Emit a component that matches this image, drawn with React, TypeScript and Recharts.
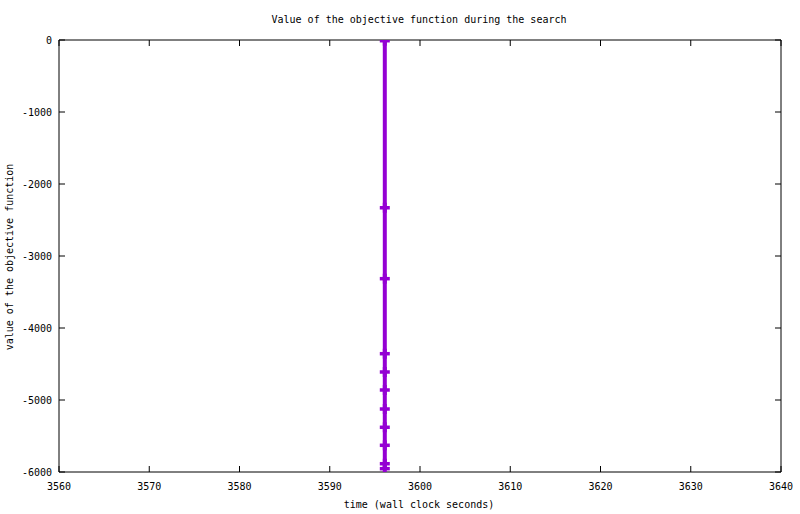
import React from 'react';
import { LineChart, Line, XAxis, YAxis } from 'recharts';

const times = [3596.1, 3596.1, 3596.1, 3596.1, 3596.1, 3596.1, 3596.1, 3596.1, 3596.1, 3596.1, 3596.1];
const values = [-10, -2330, -3315, -4357, -4611, -4861, -5125, -5379, -5629, -5885, -5954];
const xTicks = [3560, 3570, 3580, 3590, 3600, 3610, 3620, 3630, 3640];
const yTicks = [-6000, -5000, -4000, -3000, -2000, -1000, 0];

const data = times.map((t, i) => ({ t, v: values[i] }));

const FONT = '"DejaVu Sans Mono", "Liberation Mono", monospace';
const COLOR = '#9400d3';
const TL = 6;

const BottomTick = (p: any) => (
  <g>
    <line x1={p.x} x2={p.x} y1={p.y} y2={p.y - TL} stroke="#000" strokeWidth={1} />
    <text x={p.x} y={p.y + 14} textAnchor="middle" dominantBaseline="central" fontFamily={FONT} fontSize={10} fill="#000">
      {p.payload.value}
    </text>
  </g>
);
const TopTick = (p: any) => (
  <line x1={p.x} x2={p.x} y1={p.y} y2={p.y + TL} stroke="#000" strokeWidth={1} />
);
const LeftTick = (p: any) => (
  <g>
    <line x1={p.x} x2={p.x + TL} y1={p.y} y2={p.y} stroke="#000" strokeWidth={1} />
    <text x={p.x - 7} y={p.y} textAnchor="end" dominantBaseline="central" fontFamily={FONT} fontSize={10} fill="#000">
      {p.payload.value}
    </text>
  </g>
);
const RightTick = (p: any) => (
  <line x1={p.x} x2={p.x - TL} y1={p.y} y2={p.y} stroke="#000" strokeWidth={1} />
);

const PlusDot = (p: any) => {
  const { cx, cy, index } = p;
  if (cx == null || cy == null) return <g key={`d${index}`} />;
  return (
    <g key={`d${index}`}>
      <rect x={cx - 5} y={cy - 1.75} width={10} height={3.5} fill={COLOR} />
      <rect x={cx - 2} y={cy - 5} width={4} height={10} fill={COLOR} />
    </g>
  );
};

export default function App() {
  return (
    <div style={{ position: 'absolute', left: 0, top: 0, width: 800, height: 514, background: '#fff' }}>
      <LineChart width={800} height={514} data={data} margin={{ top: 0, right: 0, bottom: 0, left: 0 }}>
        <XAxis
          xAxisId="b"
          dataKey="t"
          type="number"
          domain={[3560, 3640]}
          ticks={xTicks}
          orientation="bottom"
          height={42}
          tickSize={0}
          tickMargin={0}
          tickLine={false}
          axisLine={{ stroke: '#000', strokeWidth: 1 }}
          tick={<BottomTick />}
          interval={0}
          allowDataOverflow
        />
        <XAxis
          xAxisId="t"
          dataKey="t"
          type="number"
          domain={[3560, 3640]}
          ticks={xTicks}
          orientation="top"
          height={40}
          tickSize={0}
          tickMargin={0}
          tickLine={false}
          axisLine={{ stroke: '#000', strokeWidth: 1 }}
          tick={<TopTick />}
          interval={0}
          allowDataOverflow
        />
        <YAxis
          yAxisId="l"
          type="number"
          domain={[-6000, 0]}
          ticks={yTicks}
          orientation="left"
          width={59}
          tickSize={0}
          tickMargin={0}
          tickLine={false}
          axisLine={{ stroke: '#000', strokeWidth: 1 }}
          tick={<LeftTick />}
          interval={0}
          allowDataOverflow
        />
        <YAxis
          yAxisId="r"
          type="number"
          domain={[-6000, 0]}
          ticks={yTicks}
          orientation="right"
          width={19}
          tickSize={0}
          tickMargin={0}
          tickLine={false}
          axisLine={{ stroke: '#000', strokeWidth: 1 }}
          tick={<RightTick />}
          interval={0}
          allowDataOverflow
        />
        <Line
          xAxisId="b"
          yAxisId="l"
          dataKey="v"
          type="linear"
          stroke={COLOR}
          strokeWidth={4}
          dot={<PlusDot />}
          activeDot={false}
          isAnimationActive={false}
        />
      </LineChart>
      <div style={{ position: 'absolute', left: 0, top: 13, width: 838, textAlign: 'center', fontFamily: FONT, fontSize: 10, lineHeight: '14px', color: '#000' }}>
        Value of the objective function during the search
      </div>
      <div style={{ position: 'absolute', left: 0, top: 498, width: 838, textAlign: 'center', fontFamily: FONT, fontSize: 10, lineHeight: '14px', color: '#000' }}>
        time (wall clock seconds)
      </div>
      <div style={{ position: 'absolute', left: 10, top: 257, width: 0, height: 0 }}>
        <div style={{ position: 'absolute', left: -150, top: -7, width: 300, textAlign: 'center', transform: 'rotate(-90deg)', fontFamily: FONT, fontSize: 10, lineHeight: '14px', color: '#000', whiteSpace: 'nowrap' }}>
          value of the objective function
        </div>
      </div>
    </div>
  );
}
